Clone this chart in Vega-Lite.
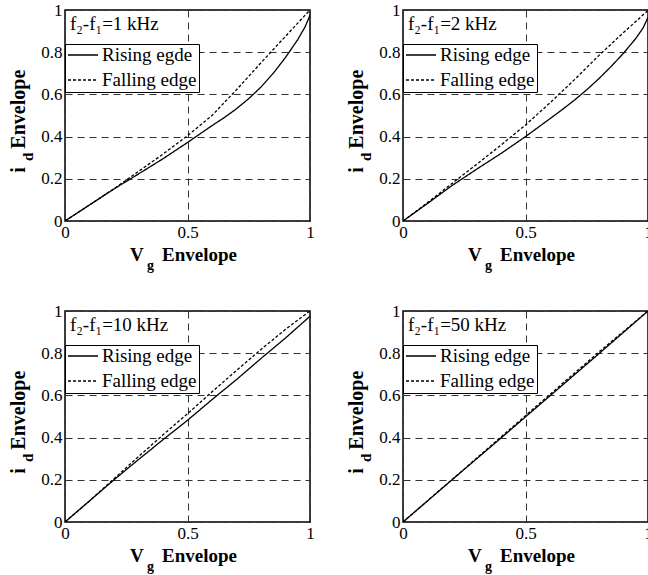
{
  "$schema": "https://vega.github.io/schema/vega-lite/v6.json",
  "background": "white",
  "padding": {"left": 8, "top": 0, "right": 0, "bottom": 0},
  "datasets": {
    "curves": [
      {"panel": 1, "edge": "Rising egde", "x": 0, "y": 0},
      {"panel": 1, "edge": "Rising egde", "x": 0.1, "y": 0.076},
      {"panel": 1, "edge": "Rising egde", "x": 0.2, "y": 0.152},
      {"panel": 1, "edge": "Rising egde", "x": 0.3, "y": 0.223},
      {"panel": 1, "edge": "Rising egde", "x": 0.4, "y": 0.295},
      {"panel": 1, "edge": "Rising egde", "x": 0.5, "y": 0.372},
      {"panel": 1, "edge": "Rising egde", "x": 0.6, "y": 0.452},
      {"panel": 1, "edge": "Rising egde", "x": 0.65, "y": 0.49},
      {"panel": 1, "edge": "Rising egde", "x": 0.7, "y": 0.532},
      {"panel": 1, "edge": "Rising egde", "x": 0.75, "y": 0.58},
      {"panel": 1, "edge": "Rising egde", "x": 0.8, "y": 0.635},
      {"panel": 1, "edge": "Rising egde", "x": 0.85, "y": 0.7},
      {"panel": 1, "edge": "Rising egde", "x": 0.9, "y": 0.775},
      {"panel": 1, "edge": "Rising egde", "x": 0.95, "y": 0.86},
      {"panel": 1, "edge": "Rising egde", "x": 0.98, "y": 0.92},
      {"panel": 1, "edge": "Rising egde", "x": 1.0, "y": 0.975},
      {"panel": 1, "edge": "Falling edge", "x": 0, "y": 0},
      {"panel": 1, "edge": "Falling edge", "x": 0.1, "y": 0.076},
      {"panel": 1, "edge": "Falling edge", "x": 0.2, "y": 0.153},
      {"panel": 1, "edge": "Falling edge", "x": 0.3, "y": 0.235},
      {"panel": 1, "edge": "Falling edge", "x": 0.4, "y": 0.317},
      {"panel": 1, "edge": "Falling edge", "x": 0.5, "y": 0.404},
      {"panel": 1, "edge": "Falling edge", "x": 0.6, "y": 0.5},
      {"panel": 1, "edge": "Falling edge", "x": 0.7, "y": 0.622},
      {"panel": 1, "edge": "Falling edge", "x": 0.8, "y": 0.75},
      {"panel": 1, "edge": "Falling edge", "x": 0.85, "y": 0.813},
      {"panel": 1, "edge": "Falling edge", "x": 0.9, "y": 0.875},
      {"panel": 1, "edge": "Falling edge", "x": 0.95, "y": 0.938},
      {"panel": 1, "edge": "Falling edge", "x": 1.0, "y": 1.0},
      {"panel": 2, "edge": "Rising edge", "x": 0, "y": 0},
      {"panel": 2, "edge": "Rising edge", "x": 0.1, "y": 0.083},
      {"panel": 2, "edge": "Rising edge", "x": 0.2, "y": 0.168},
      {"panel": 2, "edge": "Rising edge", "x": 0.3, "y": 0.245},
      {"panel": 2, "edge": "Rising edge", "x": 0.4, "y": 0.32},
      {"panel": 2, "edge": "Rising edge", "x": 0.5, "y": 0.4},
      {"panel": 2, "edge": "Rising edge", "x": 0.6, "y": 0.485},
      {"panel": 2, "edge": "Rising edge", "x": 0.65, "y": 0.528},
      {"panel": 2, "edge": "Rising edge", "x": 0.7, "y": 0.573},
      {"panel": 2, "edge": "Rising edge", "x": 0.75, "y": 0.622},
      {"panel": 2, "edge": "Rising edge", "x": 0.8, "y": 0.675},
      {"panel": 2, "edge": "Rising edge", "x": 0.85, "y": 0.733},
      {"panel": 2, "edge": "Rising edge", "x": 0.9, "y": 0.795},
      {"panel": 2, "edge": "Rising edge", "x": 0.95, "y": 0.865},
      {"panel": 2, "edge": "Rising edge", "x": 0.98, "y": 0.915},
      {"panel": 2, "edge": "Rising edge", "x": 1.0, "y": 0.965},
      {"panel": 2, "edge": "Falling edge", "x": 0, "y": 0},
      {"panel": 2, "edge": "Falling edge", "x": 0.1, "y": 0.087},
      {"panel": 2, "edge": "Falling edge", "x": 0.2, "y": 0.178},
      {"panel": 2, "edge": "Falling edge", "x": 0.3, "y": 0.268},
      {"panel": 2, "edge": "Falling edge", "x": 0.4, "y": 0.36},
      {"panel": 2, "edge": "Falling edge", "x": 0.5, "y": 0.455},
      {"panel": 2, "edge": "Falling edge", "x": 0.6, "y": 0.56},
      {"panel": 2, "edge": "Falling edge", "x": 0.7, "y": 0.67},
      {"panel": 2, "edge": "Falling edge", "x": 0.8, "y": 0.785},
      {"panel": 2, "edge": "Falling edge", "x": 0.9, "y": 0.893},
      {"panel": 2, "edge": "Falling edge", "x": 1.0, "y": 0.998},
      {"panel": 3, "edge": "Rising edge", "x": 0, "y": 0},
      {"panel": 3, "edge": "Rising edge", "x": 0.1, "y": 0.1},
      {"panel": 3, "edge": "Rising edge", "x": 0.2, "y": 0.2},
      {"panel": 3, "edge": "Rising edge", "x": 0.3, "y": 0.296},
      {"panel": 3, "edge": "Rising edge", "x": 0.4, "y": 0.39},
      {"panel": 3, "edge": "Rising edge", "x": 0.5, "y": 0.482},
      {"panel": 3, "edge": "Rising edge", "x": 0.6, "y": 0.58},
      {"panel": 3, "edge": "Rising edge", "x": 0.7, "y": 0.675},
      {"panel": 3, "edge": "Rising edge", "x": 0.8, "y": 0.775},
      {"panel": 3, "edge": "Rising edge", "x": 0.9, "y": 0.872},
      {"panel": 3, "edge": "Rising edge", "x": 1.0, "y": 0.975},
      {"panel": 3, "edge": "Falling edge", "x": 0, "y": 0},
      {"panel": 3, "edge": "Falling edge", "x": 0.1, "y": 0.1},
      {"panel": 3, "edge": "Falling edge", "x": 0.2, "y": 0.205},
      {"panel": 3, "edge": "Falling edge", "x": 0.3, "y": 0.31},
      {"panel": 3, "edge": "Falling edge", "x": 0.4, "y": 0.413},
      {"panel": 3, "edge": "Falling edge", "x": 0.5, "y": 0.513},
      {"panel": 3, "edge": "Falling edge", "x": 0.6, "y": 0.617},
      {"panel": 3, "edge": "Falling edge", "x": 0.7, "y": 0.718},
      {"panel": 3, "edge": "Falling edge", "x": 0.8, "y": 0.818},
      {"panel": 3, "edge": "Falling edge", "x": 0.9, "y": 0.913},
      {"panel": 3, "edge": "Falling edge", "x": 1.0, "y": 1.0},
      {"panel": 4, "edge": "Rising edge", "x": 0, "y": 0},
      {"panel": 4, "edge": "Rising edge", "x": 0.2, "y": 0.2},
      {"panel": 4, "edge": "Rising edge", "x": 0.4, "y": 0.398},
      {"panel": 4, "edge": "Rising edge", "x": 0.6, "y": 0.598},
      {"panel": 4, "edge": "Rising edge", "x": 0.8, "y": 0.798},
      {"panel": 4, "edge": "Rising edge", "x": 1.0, "y": 1.0},
      {"panel": 4, "edge": "Falling edge", "x": 0, "y": 0},
      {"panel": 4, "edge": "Falling edge", "x": 0.2, "y": 0.201},
      {"panel": 4, "edge": "Falling edge", "x": 0.4, "y": 0.403},
      {"panel": 4, "edge": "Falling edge", "x": 0.6, "y": 0.605},
      {"panel": 4, "edge": "Falling edge", "x": 0.8, "y": 0.806},
      {"panel": 4, "edge": "Falling edge", "x": 1.0, "y": 1.0}
    ]
  },
  "config": {
    "font": "Liberation Serif, serif",
    "view": {"stroke": "black", "strokeWidth": 1.5},
    "axis": {
      "grid": true, "gridDash": [7, 5], "gridColor": "#333", "gridWidth": 1,
      "ticks": false, "domain": false, "title": null,
      "labelFont": "Liberation Serif, serif", "labelFontSize": 17, "labelColor": "black",
      "labelPadding": 3, "labelFlush": false, "labelOverlap": false, "labelBound": false
    },
    "legend": {
      "title": null, "orient": "none", "legendX": 0, "legendY": 34,
      "strokeColor": "black", "fillColor": "white", "padding": 2, "cornerRadius": 0,
      "symbolType": "stroke", "symbolSize": 900, "symbolStrokeColor": "black", "symbolStrokeWidth": 1.3,
      "clipHeight": 18,
      "labelFont": "Liberation Serif, serif", "labelFontSize": 19, "labelColor": "black", "labelOffset": 3,
      "rowPadding": 6
    },
    "text": {"font": "Liberation Serif, serif", "fontSize": 19, "color": "black"}
  },
  "spacing": 27,
  "resolve": {"scale": {"strokeDash": "independent"}, "legend": {"strokeDash": "independent"}},
  "vconcat": [
    {
      "spacing": 31,
      "resolve": {"scale": {"strokeDash": "independent"}, "legend": {"strokeDash": "independent"}},
      "hconcat": [
        {
          "width": 245, "height": 211,
          "layer": [
            {
              "data": {"name": "curves"},
              "transform": [{"filter": "datum.panel == 1"}],
              "mark": {"type": "line", "color": "black", "strokeWidth": 1.3, "clip": true},
              "encoding": {
                "x": {"field": "x", "type": "quantitative", "scale": {"domain": [0, 1], "nice": false}, "axis": {"values": [0, 0.5, 1], "format": "~g"}},
                "y": {"field": "y", "type": "quantitative", "scale": {"domain": [0, 1], "nice": false}, "axis": {"values": [0, 0.2, 0.4, 0.6, 0.8, 1], "format": "~g"}},
                "strokeDash": {"field": "edge", "type": "nominal", "scale": {"domain": ["Rising egde", "Falling edge"], "range": [[1, 0], [3, 2]]}}
              }
            },
            {"data": {"values": [{}]}, "mark": {"type": "text", "text": "f₂-f₁=1 kHz", "align": "left", "baseline": "alphabetic"}, "encoding": {"x": {"datum": 0.02}, "y": {"datum": 0.905}}},
            {"data": {"values": [{}]}, "mark": {"type": "text", "text": "V", "fontWeight": "bold", "fontSize": 19, "align": "left", "baseline": "alphabetic"}, "encoding": {"x": {"datum": 0.265}, "y": {"datum": -0.19}}},
            {"data": {"values": [{}]}, "mark": {"type": "text", "text": "g", "fontWeight": "bold", "fontSize": 14, "align": "left", "baseline": "alphabetic"}, "encoding": {"x": {"datum": 0.335}, "y": {"datum": -0.232}}},
            {"data": {"values": [{}]}, "mark": {"type": "text", "text": "Envelope", "fontWeight": "bold", "fontSize": 19, "align": "left", "baseline": "alphabetic"}, "encoding": {"x": {"datum": 0.396}, "y": {"datum": -0.19}}},
            {"data": {"values": [{}]}, "mark": {"type": "text", "text": "i", "fontWeight": "bold", "fontSize": 20, "angle": 270, "align": "left", "baseline": "alphabetic"}, "encoding": {"x": {"datum": -0.163}, "y": {"datum": 0.229}}},
            {"data": {"values": [{}]}, "mark": {"type": "text", "text": "d", "fontWeight": "bold", "fontSize": 15, "angle": 270, "align": "left", "baseline": "alphabetic"}, "encoding": {"x": {"datum": -0.131}, "y": {"datum": 0.284}}},
            {"data": {"values": [{}]}, "mark": {"type": "text", "text": "Envelope", "fontWeight": "bold", "fontSize": 20, "angle": 270, "align": "left", "baseline": "alphabetic"}, "encoding": {"x": {"datum": -0.163}, "y": {"datum": 0.343}}}
          ]
        },
        {
          "width": 245, "height": 211,
          "layer": [
            {
              "data": {"name": "curves"},
              "transform": [{"filter": "datum.panel == 2"}],
              "mark": {"type": "line", "color": "black", "strokeWidth": 1.3, "clip": true},
              "encoding": {
                "x": {"field": "x", "type": "quantitative", "scale": {"domain": [0, 1], "nice": false}, "axis": {"values": [0, 0.5, 1], "format": "~g"}},
                "y": {"field": "y", "type": "quantitative", "scale": {"domain": [0, 1], "nice": false}, "axis": {"values": [0, 0.2, 0.4, 0.6, 0.8, 1], "format": "~g"}},
                "strokeDash": {"field": "edge", "type": "nominal", "scale": {"domain": ["Rising edge", "Falling edge"], "range": [[1, 0], [3, 2]]}}
              }
            },
            {"data": {"values": [{}]}, "mark": {"type": "text", "text": "f₂-f₁=2 kHz", "align": "left", "baseline": "alphabetic"}, "encoding": {"x": {"datum": 0.02}, "y": {"datum": 0.905}}},
            {"data": {"values": [{}]}, "mark": {"type": "text", "text": "V", "fontWeight": "bold", "fontSize": 19, "align": "left", "baseline": "alphabetic"}, "encoding": {"x": {"datum": 0.265}, "y": {"datum": -0.19}}},
            {"data": {"values": [{}]}, "mark": {"type": "text", "text": "g", "fontWeight": "bold", "fontSize": 14, "align": "left", "baseline": "alphabetic"}, "encoding": {"x": {"datum": 0.335}, "y": {"datum": -0.232}}},
            {"data": {"values": [{}]}, "mark": {"type": "text", "text": "Envelope", "fontWeight": "bold", "fontSize": 19, "align": "left", "baseline": "alphabetic"}, "encoding": {"x": {"datum": 0.396}, "y": {"datum": -0.19}}},
            {"data": {"values": [{}]}, "mark": {"type": "text", "text": "i", "fontWeight": "bold", "fontSize": 20, "angle": 270, "align": "left", "baseline": "alphabetic"}, "encoding": {"x": {"datum": -0.163}, "y": {"datum": 0.229}}},
            {"data": {"values": [{}]}, "mark": {"type": "text", "text": "d", "fontWeight": "bold", "fontSize": 15, "angle": 270, "align": "left", "baseline": "alphabetic"}, "encoding": {"x": {"datum": -0.131}, "y": {"datum": 0.284}}},
            {"data": {"values": [{}]}, "mark": {"type": "text", "text": "Envelope", "fontWeight": "bold", "fontSize": 20, "angle": 270, "align": "left", "baseline": "alphabetic"}, "encoding": {"x": {"datum": -0.163}, "y": {"datum": 0.343}}}
          ]
        }
      ]
    },
    {
      "spacing": 31,
      "resolve": {"scale": {"strokeDash": "independent"}, "legend": {"strokeDash": "independent"}},
      "hconcat": [
        {
          "width": 245, "height": 211,
          "layer": [
            {
              "data": {"name": "curves"},
              "transform": [{"filter": "datum.panel == 3"}],
              "mark": {"type": "line", "color": "black", "strokeWidth": 1.3, "clip": true},
              "encoding": {
                "x": {"field": "x", "type": "quantitative", "scale": {"domain": [0, 1], "nice": false}, "axis": {"values": [0, 0.5, 1], "format": "~g"}},
                "y": {"field": "y", "type": "quantitative", "scale": {"domain": [0, 1], "nice": false}, "axis": {"values": [0, 0.2, 0.4, 0.6, 0.8, 1], "format": "~g"}},
                "strokeDash": {"field": "edge", "type": "nominal", "scale": {"domain": ["Rising edge", "Falling edge"], "range": [[1, 0], [3, 2]]}}
              }
            },
            {"data": {"values": [{}]}, "mark": {"type": "text", "text": "f₂-f₁=10 kHz", "align": "left", "baseline": "alphabetic"}, "encoding": {"x": {"datum": 0.02}, "y": {"datum": 0.905}}},
            {"data": {"values": [{}]}, "mark": {"type": "text", "text": "V", "fontWeight": "bold", "fontSize": 19, "align": "left", "baseline": "alphabetic"}, "encoding": {"x": {"datum": 0.265}, "y": {"datum": -0.19}}},
            {"data": {"values": [{}]}, "mark": {"type": "text", "text": "g", "fontWeight": "bold", "fontSize": 14, "align": "left", "baseline": "alphabetic"}, "encoding": {"x": {"datum": 0.335}, "y": {"datum": -0.232}}},
            {"data": {"values": [{}]}, "mark": {"type": "text", "text": "Envelope", "fontWeight": "bold", "fontSize": 19, "align": "left", "baseline": "alphabetic"}, "encoding": {"x": {"datum": 0.396}, "y": {"datum": -0.19}}},
            {"data": {"values": [{}]}, "mark": {"type": "text", "text": "i", "fontWeight": "bold", "fontSize": 20, "angle": 270, "align": "left", "baseline": "alphabetic"}, "encoding": {"x": {"datum": -0.163}, "y": {"datum": 0.229}}},
            {"data": {"values": [{}]}, "mark": {"type": "text", "text": "d", "fontWeight": "bold", "fontSize": 15, "angle": 270, "align": "left", "baseline": "alphabetic"}, "encoding": {"x": {"datum": -0.131}, "y": {"datum": 0.284}}},
            {"data": {"values": [{}]}, "mark": {"type": "text", "text": "Envelope", "fontWeight": "bold", "fontSize": 20, "angle": 270, "align": "left", "baseline": "alphabetic"}, "encoding": {"x": {"datum": -0.163}, "y": {"datum": 0.343}}}
          ]
        },
        {
          "width": 245, "height": 211,
          "layer": [
            {
              "data": {"name": "curves"},
              "transform": [{"filter": "datum.panel == 4"}],
              "mark": {"type": "line", "color": "black", "strokeWidth": 1.3, "clip": true},
              "encoding": {
                "x": {"field": "x", "type": "quantitative", "scale": {"domain": [0, 1], "nice": false}, "axis": {"values": [0, 0.5, 1], "format": "~g"}},
                "y": {"field": "y", "type": "quantitative", "scale": {"domain": [0, 1], "nice": false}, "axis": {"values": [0, 0.2, 0.4, 0.6, 0.8, 1], "format": "~g"}},
                "strokeDash": {"field": "edge", "type": "nominal", "scale": {"domain": ["Rising edge", "Falling edge"], "range": [[1, 0], [3, 2]]}}
              }
            },
            {"data": {"values": [{}]}, "mark": {"type": "text", "text": "f₂-f₁=50 kHz", "align": "left", "baseline": "alphabetic"}, "encoding": {"x": {"datum": 0.02}, "y": {"datum": 0.905}}},
            {"data": {"values": [{}]}, "mark": {"type": "text", "text": "V", "fontWeight": "bold", "fontSize": 19, "align": "left", "baseline": "alphabetic"}, "encoding": {"x": {"datum": 0.265}, "y": {"datum": -0.19}}},
            {"data": {"values": [{}]}, "mark": {"type": "text", "text": "g", "fontWeight": "bold", "fontSize": 14, "align": "left", "baseline": "alphabetic"}, "encoding": {"x": {"datum": 0.335}, "y": {"datum": -0.232}}},
            {"data": {"values": [{}]}, "mark": {"type": "text", "text": "Envelope", "fontWeight": "bold", "fontSize": 19, "align": "left", "baseline": "alphabetic"}, "encoding": {"x": {"datum": 0.396}, "y": {"datum": -0.19}}},
            {"data": {"values": [{}]}, "mark": {"type": "text", "text": "i", "fontWeight": "bold", "fontSize": 20, "angle": 270, "align": "left", "baseline": "alphabetic"}, "encoding": {"x": {"datum": -0.163}, "y": {"datum": 0.229}}},
            {"data": {"values": [{}]}, "mark": {"type": "text", "text": "d", "fontWeight": "bold", "fontSize": 15, "angle": 270, "align": "left", "baseline": "alphabetic"}, "encoding": {"x": {"datum": -0.131}, "y": {"datum": 0.284}}},
            {"data": {"values": [{}]}, "mark": {"type": "text", "text": "Envelope", "fontWeight": "bold", "fontSize": 20, "angle": 270, "align": "left", "baseline": "alphabetic"}, "encoding": {"x": {"datum": -0.163}, "y": {"datum": 0.343}}}
          ]
        }
      ]
    }
  ]
}
